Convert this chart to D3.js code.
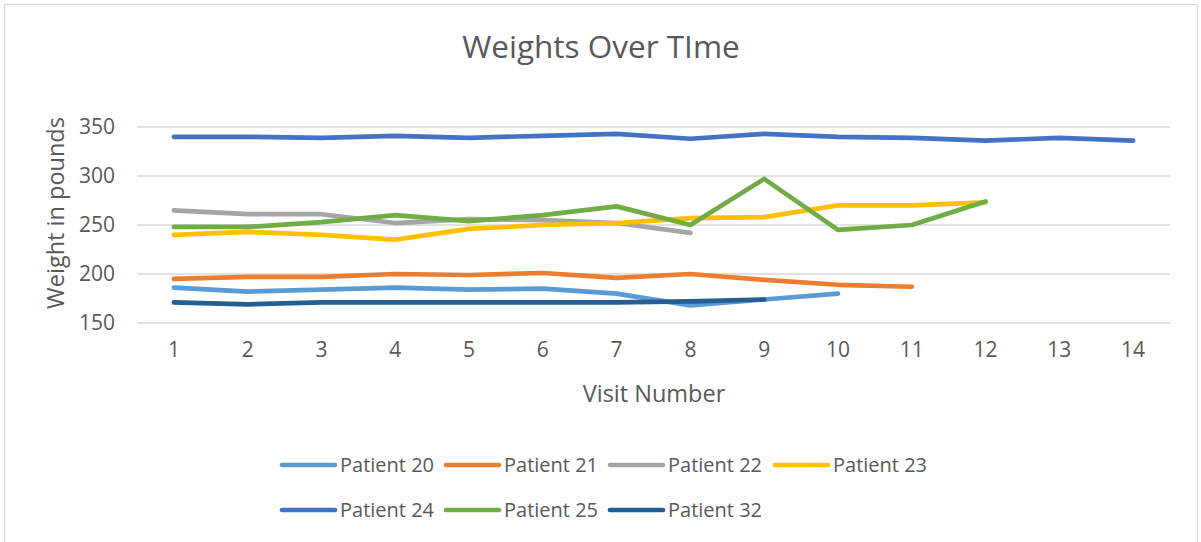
<!DOCTYPE html>
<html>
<head>
<meta charset="utf-8">
<style>
body { margin: 0; background: #fff; }
svg text { font-family: "Open Sans", sans-serif; fill: #595959; }
.grid line { stroke: #d9d9d9; stroke-width: 1.3; }
.series path { fill: none; stroke-width: 4.7; stroke-linejoin: round; stroke-linecap: round; }
</style>
<script src="https://d3js.org/d3.v7.min.js"></script>
</head>
<body>
<svg width="1201" height="542"></svg>
<script>
// visit numbers on the x axis
var visits = [1, 2, 3, 4, 5, 6, 7, 8, 9, 10, 11, 12, 13, 14];
var yTicks = [150, 200, 250, 300, 350];

var patients = ["Patient 20", "Patient 21", "Patient 22", "Patient 23", "Patient 24", "Patient 25", "Patient 32"];
var colors = ["#5b9bd5", "#ed7d31", "#a5a5a5", "#ffc000", "#4472c4", "#70ad47", "#255e91"];

// weights, one array per patient (visit 1 onwards)
var p20 = [186, 182, 184, 186, 184, 185, 180, 168, 174, 180];
var p21 = [195, 197, 197, 200, 199, 201, 196, 200, 194, 189, 187];
var p22 = [265, 261, 261, 252, 256, 255, 252, 242];
var p23 = [240, 243, 240, 235, 246, 250, 252, 257, 258, 270, 270, 273];
var p24 = [340, 340, 339, 341, 339, 341, 343, 338, 343, 340, 339, 336, 339, 336];
var p25 = [248, 248, 253, 260, 254, 260, 269, 250, 297, 245, 250, 274];
var p32 = [171, 169, 171, 171, 171, 171, 171, 172, 174];

var series = [p20, p21, p22, p23, p24, p25, p32];

var svg = d3.select("svg");

// chart frame
svg.append("rect")
    .attr("x", 4.5).attr("y", 4.5)
    .attr("width", 1193).attr("height", 560)
    .attr("fill", "none").attr("stroke", "#d9d9d9").attr("stroke-width", 1.3);

var plotL = 137, plotR = 1170, plotT = 127, plotB = 323;

var x = d3.scaleBand().domain(visits).range([plotL, plotR]);
var y = d3.scaleLinear().domain([150, 350]).range([plotB, plotT]);

svg.append("text")
    .attr("x", 601).attr("y", 58)
    .attr("text-anchor", "middle")
    .attr("font-size", 31.5)
    .text("Weights Over TIme");

// gridlines
svg.append("g").attr("class", "grid")
  .selectAll("line")
  .data(yTicks)
  .enter().append("line")
    .attr("x1", plotL).attr("x2", plotR)
    .attr("y1", function(d) { return y(d); })
    .attr("y2", function(d) { return y(d); });

// y axis labels
var yAxis = svg.append("g")
    .attr("transform", "translate(" + (plotL - 22) + ",0)")
    .call(d3.axisLeft(y).tickValues(yTicks).tickSize(0).tickPadding(0));
yAxis.select(".domain").remove();
yAxis.selectAll("text").attr("font-size", 21).attr("fill", "#595959").attr("font-family", "Open Sans, sans-serif");

// x axis labels
var xAxis = svg.append("g")
    .attr("transform", "translate(0," + (plotB + 19) + ")")
    .call(d3.axisBottom(x).tickSize(0).tickPadding(0));
xAxis.select(".domain").remove();
xAxis.selectAll("text").attr("font-size", 21).attr("fill", "#595959").attr("font-family", "Open Sans, sans-serif");

svg.append("text")
    .attr("transform", "translate(64,213) rotate(-90)")
    .attr("text-anchor", "middle")
    .attr("font-size", 23.5)
    .text("Weight in pounds");

svg.append("text")
    .attr("x", 654).attr("y", 402)
    .attr("text-anchor", "middle")
    .attr("font-size", 23.5)
    .text("Visit Number");

var line = d3.line()
    .x(function(d, i) { return x(visits[i]) + x.bandwidth() / 2; })
    .y(function(d) { return y(d); });

svg.append("g").attr("class", "series")
  .selectAll("path")
  .data(series)
  .enter().append("path")
    .attr("stroke", function(d, i) { return colors[i]; })
    .attr("d", line);

// legend, two rows
var legendX = [282, 446, 610, 775];
var legendY = [465, 510];
var legend = svg.append("g")
  .selectAll("g")
  .data(patients)
  .enter().append("g")
    .attr("transform", function(d, i) {
      return "translate(" + legendX[i % 4] + "," + legendY[Math.floor(i / 4)] + ")";
    });
legend.append("line")
    .attr("x1", 0).attr("x2", 53)
    .attr("stroke", function(d, i) { return colors[i]; })
    .attr("stroke-width", 4.7)
    .attr("stroke-linecap", "round");
legend.append("text")
    .attr("x", 58).attr("dy", "0.35em")
    .attr("font-size", 20)
    .text(function(d) { return d; });
</script>
</body>
</html>
